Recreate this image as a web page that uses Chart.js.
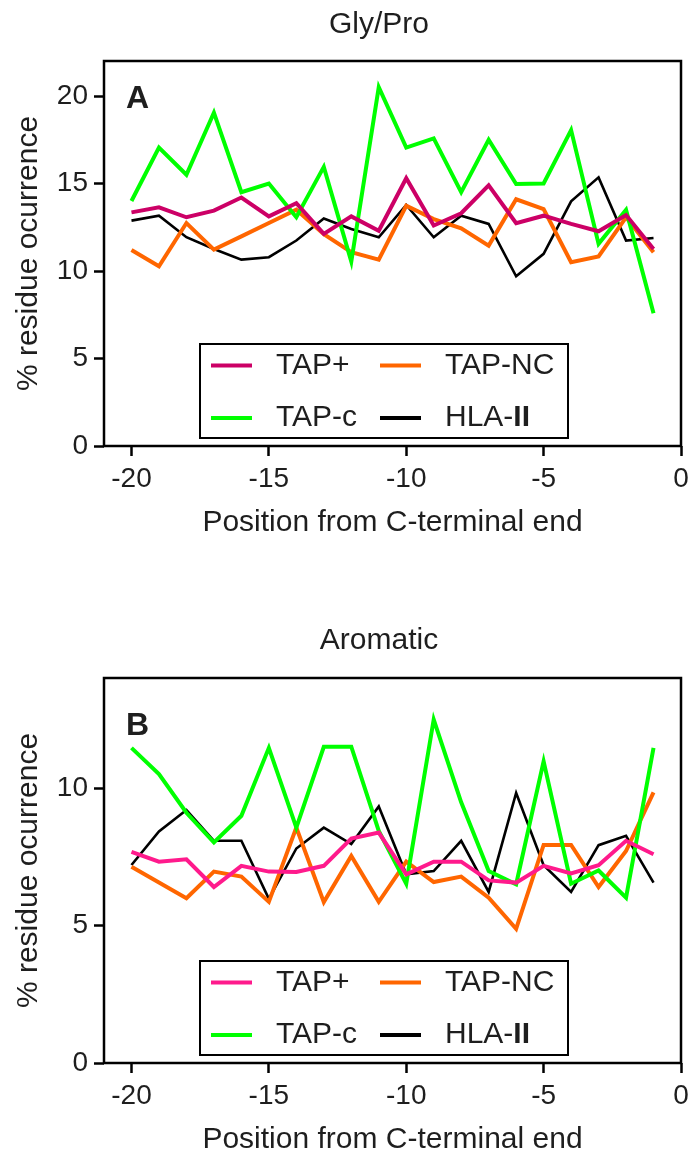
<!DOCTYPE html>
<html>
<head>
<meta charset="utf-8">
<script src="https://cdn.jsdelivr.net/npm/chart.js@4.4.1/dist/chart.umd.min.js"></script>
<style>
    html, body { margin: 0; padding: 0; background: #fff; }
    #wrap { position: relative; width: 688px; height: 1158px; }
    canvas { position: absolute; left: 0; }
</style>
</head>
<body>
<div id="wrap">
    <canvas id="glyPro" width="688" height="541" style="top:0"></canvas>
    <canvas id="aromatic" width="688" height="617" style="top:541px"></canvas>
</div>
<script>
// Positions from the C-terminal end
const positions = [-20, -19, -18, -17, -16, -15, -14, -13, -12, -11, -10, -9, -8, -7, -6, -5, -4, -3, -2, -1];
const xTicks   = [-20, -15, -10, -5, 0];
const glyTicks = [0, 5, 10, 15, 20];
const aroTicks = [0, 5, 10];

// A: Gly/Pro
const glyTapPlus = [13.35, 13.64, 13.07, 13.45, 14.2, 13.12, 13.87, 12.12, 13.12, 12.3, 15.3, 12.6, 13.3, 14.9, 12.73, 13.16, 12.69, 12.27, 13.2, 11.26];
const glyTapNC   = [11.2, 10.27, 12.74, 11.22, 11.98, 12.74, 13.5, 12.1, 11.07, 10.65, 13.73, 12.97, 12.44, 11.45, 14.1, 13.54, 10.5, 10.83, 13.07, 11.07];
const glyTapC    = [14.0, 17.05, 15.5, 19.05, 14.5, 15.0, 13.07, 15.95, 10.54, 20.5, 17.05, 17.58, 14.5, 17.5, 14.97, 15.0, 18.05, 11.55, 13.49, 7.58];
const glyHla     = [12.88, 13.16, 11.93, 11.26, 10.65, 10.79, 11.74, 13.0, 12.4, 11.93, 13.77, 11.93, 13.16, 12.69, 9.7, 10.98, 13.98, 15.35, 11.74, 11.89];

// B: Aromatic
const aroTapPlus = [7.68, 7.32, 7.41, 6.4, 7.17, 6.96, 6.95, 7.17, 8.16, 8.38, 6.86, 7.32, 7.32, 6.64, 6.56, 7.17, 6.89, 7.19, 8.08, 7.59];
const aroTapNC   = [7.14, 6.56, 5.99, 6.96, 6.78, 5.86, 8.56, 5.85, 7.53, 5.86, 7.32, 6.58, 6.78, 6.01, 4.88, 7.93, 7.93, 6.4, 7.71, 9.84];
const aroTapC    = [11.46, 10.51, 9.1, 8.02, 8.99, 11.46, 8.56, 11.5, 11.5, 8.44, 6.52, 12.49, 9.48, 6.98, 6.5, 10.97, 6.52, 7.0, 6.01, 11.46];
const aroHla     = [7.2, 8.42, 9.2, 8.08, 8.08, 5.97, 7.8, 8.56, 7.96, 9.33, 6.86, 6.98, 8.08, 6.22, 9.82, 7.19, 6.22, 7.92, 8.26, 6.56];

const FONT = "'Liberation Sans', Arial, Helvetica, sans-serif";
const INK  = "#1e1e1e";
Chart.defaults.font.family = FONT;
Chart.defaults.color = INK;

// frame box, heading, panel letter and the boxed 2x2 legend
const panelDecor = {
    id: "panelDecor",
    afterDraw(chart, args, o) {
        const { ctx, chartArea: a } = chart;
        ctx.save();
        ctx.strokeStyle = "#000";
        ctx.lineWidth = 2.5;
        ctx.strokeRect(a.left, a.top, a.right - a.left, a.bottom - a.top);

        ctx.fillStyle = INK;
        ctx.font = `30px ${FONT}`;
        ctx.textAlign = "center"; ctx.textBaseline = "middle";
        ctx.fillText(o.heading, 379, o.headingY);

        ctx.font = `bold 32px ${FONT}`;
        ctx.textAlign = "left"; ctx.textBaseline = "alphabetic";
        ctx.fillText(o.letter, 126, a.top + o.letterY);

        // legend
        ctx.lineWidth = 2;
        ctx.strokeRect(200, a.top + 283, 368, 94);
        const cols = [211, 380], rows = [a.top + 304.5, a.top + 357];
        const order = ["TAP+", "TAP-NC", "TAP-c", "HLA-II"];
        order.forEach((lab, i) => {
            const ds = chart.data.datasets.find(d => d.label === lab);
            const x = cols[i % 2], y = rows[i >> 1];
            ctx.strokeStyle = ds.borderColor;
            ctx.lineWidth = 4;
            ctx.beginPath(); ctx.moveTo(x, y); ctx.lineTo(x + 41, y); ctx.stroke();
            ctx.fillStyle = INK;
            ctx.textBaseline = "middle";
            ctx.font = `30px ${FONT}`;
            if (lab === "HLA-II") {
                ctx.fillText("HLA-", x + 65, y);
                const w = ctx.measureText("HLA-").width;
                ctx.font = `bold 30px ${FONT}`;
                ctx.fillText("II", x + 65 + w, y);
            } else {
                ctx.fillText(lab, x + 65, y);
            }
        });
        ctx.restore();
    }
};

function makePanel(id, cfg) {
    const series = [
        { label: "TAP+",   values: cfg.tapPlus, color: cfg.plusColor, width: 4 },
        { label: "TAP-c",  values: cfg.tapC,    color: "#00ff00",     width: 4 },
        { label: "TAP-NC", values: cfg.tapNC,   color: "#ff6600",     width: 4 },
        { label: "HLA-II", values: cfg.hla,     color: "#000000",     width: 2.6 }
    ];
    const tickGrid = {
        drawOnChartArea: false, drawTicks: true,
        tickLength: 10, tickWidth: 2.5, tickColor: "#000"
    };
    return new Chart(document.getElementById(id), {
        type: "line",
        data: {
            datasets: series.map(s => ({
                label: s.label,
                data: positions.map((x, i) => ({ x, y: s.values[i] })),
                borderColor: s.color,
                borderWidth: s.width,
                borderJoinStyle: "miter",
                pointRadius: 0,
                tension: 0,
                fill: false
            }))
        },
        options: {
            responsive: false,
            animation: false,
            layout: { padding: { top: cfg.padTop, right: 7, left: 0, bottom: 0 } },
            plugins: {
                legend: { display: false },
                tooltip: { enabled: false },
                panelDecor: { heading: cfg.heading, headingY: cfg.headingY, letter: cfg.letter, letterY: cfg.letterY }
            },
            scales: {
                x: {
                    type: "linear", min: -21, max: 0,
                    afterBuildTicks: s => { s.ticks = xTicks.map(v => ({ value: v })); },
                    afterFit: s => { s.height = 95; s.paddingLeft = 0; s.paddingRight = 0; },
                    grid: tickGrid,
                    border: { display: false },
                    ticks: { font: { size: 28 }, color: INK, padding: 6, maxRotation: 0 },
                    title: { display: true, text: "Position from C-terminal end", font: { size: 30 }, color: INK, padding: { top: 0, bottom: 0 } }
                },
                y: {
                    type: "linear", min: 0, max: cfg.yMax,
                    afterBuildTicks: s => { s.ticks = cfg.yTicks.map(v => ({ value: v })); },
                    afterFit: s => { s.width = 104; s.paddingTop = 0; s.paddingBottom = 0; },
                    grid: tickGrid,
                    border: { display: false },
                    ticks: { font: { size: 28 }, color: INK, padding: 6 },
                    title: { display: true, text: "% residue ocurrence", font: { size: 30 }, color: INK, padding: { top: 11, bottom: 0 } }
                }
            }
        },
        plugins: [panelDecor]
    });
}

makePanel("glyPro", {
    heading: "Gly/Pro", headingY: 25, letter: "A", letterY: 47, padTop: 61,
    yMax: 22, yTicks: glyTicks, plusColor: "#cc0066",
    tapPlus: glyTapPlus, tapNC: glyTapNC, tapC: glyTapC, hla: glyHla
});

makePanel("aromatic", {
    heading: "Aromatic", headingY: 100, letter: "B", letterY: 57, padTop: 137,
    yMax: 14, yTicks: aroTicks, plusColor: "#ff1a8c",
    tapPlus: aroTapPlus, tapNC: aroTapNC, tapC: aroTapC, hla: aroHla
});
</script>
</body>
</html>
